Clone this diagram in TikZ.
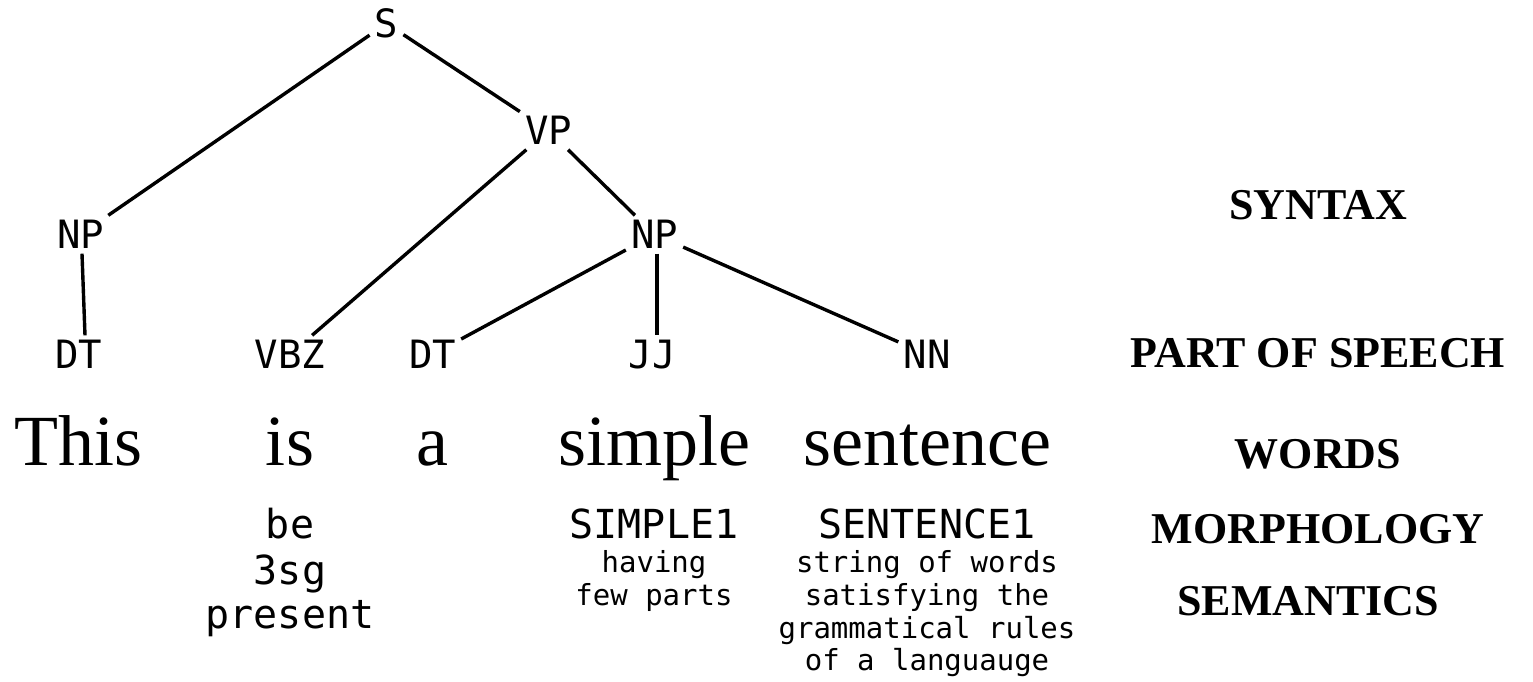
\documentclass[tikz,border=0pt]{standalone}
\usepackage{fontspec}
\setmainfont{Liberation Serif}
\newfontfamily\treefont{DejaVu Sans Mono}
\begin{document}
\begin{tikzpicture}[x=1pt,y=-1pt,
  tag/.style={font=\treefont\fontsize{39}{45}\selectfont, text height=28pt, text depth=0pt, inner sep=5pt},
  edge/.style={line width=3.4pt, black},
  word/.style={font=\fontsize{72}{80}\selectfont, anchor=base, inner sep=0pt},
  morph/.style={font=\treefont\fontsize{40}{45}\selectfont, anchor=base, inner sep=0pt, align=center},
  gloss/.style={font=\treefont\fontsize{29}{30}\selectfont, anchor=base, inner sep=0pt, align=center},
  level/.style={font=\bfseries\fontsize{44}{50}\selectfont, anchor=base, inner sep=0pt}]
\useasboundingbox (0,0) rectangle (1533,681);
% tree
\node[tag] (S)   at (386.5,23.5) {S};
\node[tag] (VP)  at (548.5,130.5) {VP};
\node[tag] (NPa) at (80.5,234.5) {NP};
\node[tag] (NPb) at (654.5,234.5) {NP};
\node[tag] (DTa) at (78.5,354.5) {DT};
\node[tag] (VBZ) at (290,354.5) {VBZ};
\node[tag] (DTb) at (432.5,354.5) {DT};
\node[tag] (JJ)  at (652,354.5) {JJ};
\node[tag] (NN)  at (927,354.5) {NN};
\draw[edge] (S) -- (NPa);
\draw[edge] (S) -- (VP);
\draw[edge] (VP) -- (VBZ);
\draw[edge] (VP) -- (NPb);
\draw[edge] ([xshift=1.5pt]NPa.south) -- ([xshift=6.5pt]DTa.north);
\draw[edge] (NPb) -- (DTb);
\draw[edge] ([xshift=2.5pt]NPb.south) -- ([xshift=5pt]JJ.north);
\draw[edge] (NPb) -- (NN);
% words
\node[word] (w1) at (78.5,465) {This};
\node[word] (w2) at (290,465) {is};
\node[word] (w3) at (432.5,465) {a};
\node[word] (w4) at (654,465) {simple};
\node[word] (w5) at (927,465) {sentence};
% morphology
\node[morph] (m2a) at (290,538) {be};
\node[morph] (m2b) at (290,584) {3sg};
\node[morph] (m2c) at (290,628) {present};
\node[morph] (m4) at (654,538) {SIMPLE1};
\node[morph] (m5) at (927,538) {SENTENCE1};
% semantics
\node[gloss] (s4a) at (654,572) {having};
\node[gloss] (s4b) at (654,605) {few parts};
\node[gloss] (s5a) at (927,572) {string of words};
\node[gloss] (s5b) at (927,605) {satisfying the};
\node[gloss] (s5c) at (927,638) {grammatical rules};
\node[gloss] (s5d) at (927,670) {of a languauge};
% levels
\node[level] (L1) at (1318,219) {SYNTAX};
\node[level] (L2) at (1318,367) {PART OF SPEECH};
\node[level] (L3) at (1318,468) {WORDS};
\node[level] (L4) at (1318,543) {MORPHOLOGY};
\node[level] (L5) at (1308,615) {SEMANTICS};
\end{tikzpicture}
\end{document}
